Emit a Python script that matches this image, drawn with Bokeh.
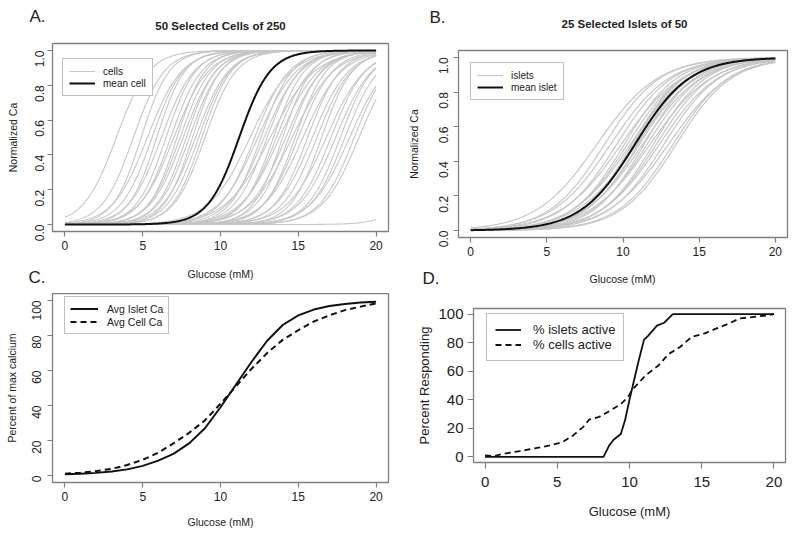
import math
import numpy as np
from bokeh.plotting import figure
from bokeh.layouts import row, column
from bokeh.models import Label, Legend, LegendItem, Range1d, FixedTicker, PrintfTickFormatter
from bokeh.embed import file_html
from bokeh.resources import INLINE

# ---------------- data ----------------
# Panel A: half-max glucose (mM) and steepness of each of the 50 selected cells
cell_midpoints = [3.3, 4.4, 4.9, 5.3, 5.6, 5.9, 6.2, 6.5, 6.8, 7.0,
                  7.2, 7.4, 7.6, 7.8, 8.0, 8.2, 8.4, 8.6, 8.8, 9.0,
                  11.9, 12.2, 12.4, 12.6, 12.8, 13.0, 13.2, 13.4, 13.6, 13.8,
                  14.0, 14.2, 14.4, 14.6, 14.8, 15.0, 15.3, 15.6, 15.9, 16.2,
                  16.5, 16.8, 17.1, 17.4, 17.7, 18.0, 18.3, 18.6, 18.9, 23.5]
cell_slopes = [0.95, 1.0, 1.1, 0.9, 1.0, 1.1, 0.95, 1.05, 1.0, 0.9,
               1.1, 1.0, 0.95, 1.05, 1.0, 1.1, 0.95, 1.0, 1.05, 1.0,
               0.75, 0.9, 0.8, 1.0, 0.85, 0.95, 0.7, 1.0, 0.9, 0.8,
               1.05, 0.85, 0.95, 0.75, 1.0, 0.9, 0.8, 0.95, 0.85, 0.9,
               1.0, 0.8, 0.9, 0.85, 0.95, 0.9, 0.8, 0.9, 0.85, 1.0]
mean_cell_midpoint = 11.2
mean_cell_slope = 1.0

# Panel B: 25 selected islets
islet_midpoints = [8.3, 8.8, 9.2, 9.6, 9.9, 10.1, 10.3, 10.5, 10.6, 10.8,
                   10.9, 11.0, 11.1, 11.3, 11.4, 11.6, 11.8, 12.0, 12.2, 12.4,
                   12.7, 13.0, 13.3, 13.5, 10.7]
islet_slopes = [0.5, 0.55, 0.52, 0.55, 0.5, 0.58, 0.55, 0.52, 0.6, 0.55,
                0.5, 0.58, 0.55, 0.52, 0.6, 0.55, 0.5, 0.58, 0.55, 0.52,
                0.55, 0.5, 0.55, 0.55, 0.6]
mean_islet_midpoint = 10.8
mean_islet_slope = 0.56

# Panel C
glucose_c = [0, 1, 2, 3, 4, 5, 6, 7, 8, 9, 10, 11, 12, 13, 14, 15, 16, 17, 18, 19, 20]
avg_islet_ca = [0.7, 1.0, 1.5, 2.3, 3.5, 5.5, 8.5, 12.5, 18.5, 27, 39, 52, 65, 77, 86, 91.5, 94.8, 96.8, 98, 98.8, 99.3]
avg_cell_ca = [1.0, 1.6, 2.5, 3.8, 6.0, 9.0, 13, 18.5, 24.5, 31.5, 41, 51, 61, 70, 77.5, 83, 88, 91.5, 94.5, 96.5, 98.3]

# Panel D
glucose_islets = [0, 8.2, 8.6, 8.9, 9.4, 9.7, 10.0, 10.6, 11.0, 11.3, 11.9, 12.4, 12.7, 13.0, 20]
pct_islets_active = [0, 0, 8, 12, 16, 26, 40, 66, 82, 85, 92, 94, 97, 100, 100]
glucose_cells = [0, 0.6, 1.2, 2.4, 3.5, 4.5, 5.4, 6.1, 6.8, 7.2, 7.9, 8.6, 9.4, 9.9, 10.2,
                 11.1, 12.0, 12.7, 13.5, 14.3, 15.2, 15.9, 16.9, 17.6, 18.5, 19.4, 20]
pct_cells_active = [1, 0.5, 2, 4, 6, 8, 10.5, 15, 21, 26, 28, 32, 37, 42, 47,
                    57, 64, 72, 77, 84, 86.5, 89.5, 93.5, 97, 98, 99, 100]

x_ticks = [0, 5, 10, 15, 20]
frac_ticks = [0, 0.2, 0.4, 0.6, 0.8, 1.0]
pct_ticks = [0, 20, 40, 60, 80, 100]

# ---------------- styling helpers ----------------
FONT = "Liberation Sans"
TXT = "#222222"
BOX = "#808080"
grid = np.linspace(0, 20, 401)
W = 400


def hill(mid, k):
    return 1.0 / (1.0 + np.exp(-k * (grid - mid)))


def make_fig(h, yr, left, right, top, bottom, tick_px, lab_px, rot_y=True,
             tick_len=5, tick_standoff=4, label_standoff=9):
    p = figure(width=W, height=h, x_range=Range1d(-0.8, 20.8), y_range=Range1d(*yr),
               output_backend="svg", toolbar_location=None,
               min_border_left=left, min_border_right=right,
               min_border_top=top, min_border_bottom=bottom)
    p.grid.visible = False
    p.outline_line_color = BOX
    p.outline_line_width = 1.3
    for ax in p.axis:
        ax.axis_line_color = None
        ax.major_tick_line_color = BOX
        ax.major_tick_line_width = 1.2
        ax.major_tick_in = 0
        ax.major_tick_out = tick_len
        ax.minor_tick_line_color = None
        ax.major_label_text_font = FONT
        ax.major_label_text_font_size = tick_px
        ax.major_label_text_color = TXT
        ax.major_label_standoff = tick_standoff
        ax.axis_label_text_font = FONT
        ax.axis_label_text_font_size = lab_px
        ax.axis_label_text_font_style = "normal"
        ax.axis_label_text_color = TXT
        ax.axis_label_standoff = label_standoff
    p.xaxis.ticker = FixedTicker(ticks=x_ticks)
    if rot_y:
        p.yaxis.major_label_orientation = math.pi / 2
    return p


def header(h, left, right, letter_txt, letter_y, letter_gap):
    # text strip between panels; its y data units are pixels from its top edge,
    # the panel letter is drawn as the single tick label of its left axis
    p = figure(width=W, height=h, x_range=Range1d(-0.8, 20.8), y_range=Range1d(h, 0),
               output_backend="svg", toolbar_location=None,
               min_border_left=left, min_border_right=right,
               min_border_top=0, min_border_bottom=0, x_axis_type=None)
    p.grid.visible = False
    p.outline_line_color = None
    ax = p.yaxis[0]
    ax.ticker = FixedTicker(ticks=[letter_y])
    ax.major_label_overrides = {letter_y: letter_txt}
    ax.axis_line_color = None
    ax.major_tick_line_color = None
    ax.minor_tick_line_color = None
    ax.major_tick_out = 0
    ax.major_label_standoff = letter_gap
    ax.major_label_text_font = FONT
    ax.major_label_text_font_size = "17px"
    ax.major_label_text_color = TXT
    return p


def text_at(p, x, y, txt, size, bold=False):
    p.add_layout(Label(x=x, y=y, text=txt, text_font=FONT, text_font_size=size,
                       text_font_style="bold" if bold else "normal", text_color=TXT,
                       text_align="center", text_baseline="middle"))


def style_legend(lg, font_px, glyph_w, row_h, pad, standoff):
    lg.border_line_color = BOX
    lg.border_line_width = 1.2
    lg.background_fill_color = "white"
    lg.background_fill_alpha = 1.0
    lg.label_text_font = FONT
    lg.label_text_font_size = font_px
    lg.label_text_color = TXT
    lg.glyph_width = glyph_w
    lg.glyph_height = row_h
    lg.label_height = row_h
    lg.spacing = 0
    lg.padding = pad
    lg.margin = 0
    lg.label_standoff = standoff


# ---------------- Panel A ----------------
ha = header(36, 52, 12, "A.", 16, 7)
text_at(ha, 10.0, 25, "50 Selected Cells of 250", "11.5px", bold=True)

pa = make_fig(220, (-0.04, 1.04), 52, 12, 7, 25, "12px", "10.5px", tick_standoff=4)
pa.yaxis.major_label_standoff = 8
pa.yaxis.axis_label_standoff = 9
pa.yaxis.axis_label = "Normalized Ca"
pa.yaxis.ticker = FixedTicker(ticks=frac_ticks)
pa.yaxis.formatter = PrintfTickFormatter(format="%.1f")
cells_r = pa.multi_line(xs=[grid] * len(cell_midpoints),
                        ys=[hill(m, k) for m, k in zip(cell_midpoints, cell_slopes)],
                        line_color="#c6c6c6", line_width=1.1)
mean_cell_r = pa.line(grid, hill(mean_cell_midpoint, mean_cell_slope), line_color="#111111", line_width=2)
lga = Legend(items=[LegendItem(label="cells", renderers=[cells_r]),
                    LegendItem(label="mean cell", renderers=[mean_cell_r])],
             location=(10, 135))
style_legend(lga, "10px", 26, 12, 6, 8)
pa.add_layout(lga)

# strip below A: A's x-axis title and the letter of C
hc = header(37, 52, 12, "C.", 21, 7)
text_at(hc, 10.0, 17, "Glucose (mM)", "10.5px")

# ---------------- Panel C ----------------
pc = make_fig(244, (-4, 104), 52, 12, 0, 55, "12px", "10.5px",
              tick_standoff=4, label_standoff=12)
pc.yaxis.major_label_standoff = 11
pc.yaxis.axis_label_standoff = 7
pc.xaxis.axis_label = "Glucose (mM)"
pc.yaxis.axis_label = "Percent of max calcium"
pc.yaxis.ticker = FixedTicker(ticks=pct_ticks)
islet_c_r = pc.line(glucose_c, avg_islet_ca, line_color="#111111", line_width=2)
cell_c_r = pc.line(glucose_c, avg_cell_ca, line_color="#111111", line_width=2, line_dash="6 4")
lgc = Legend(items=[LegendItem(label="Avg Islet Ca", renderers=[islet_c_r]),
                    LegendItem(label="Avg Cell Ca", renderers=[cell_c_r])],
             location=(12, 148))
style_legend(lgc, "10.5px", 28, 13, 5, 9)
pc.add_layout(lgc)

# ---------------- Panel B ----------------
hb = header(40, 58, 13, "B.", 17, 13)
text_at(hb, 10.1, 23, "25 Selected Islets of 50", "11.5px", bold=True)

pb = make_fig(222, (-0.04, 1.04), 58, 13, 10, 25, "12px", "10.5px", tick_standoff=4)
pb.yaxis.major_label_standoff = 10
pb.yaxis.axis_label_standoff = 12
pb.yaxis.axis_label = "Normalized Ca"
pb.yaxis.ticker = FixedTicker(ticks=frac_ticks)
pb.yaxis.formatter = PrintfTickFormatter(format="%.1f")
islets_r = pb.multi_line(xs=[grid] * len(islet_midpoints),
                         ys=[hill(m, k) for m, k in zip(islet_midpoints, islet_slopes)],
                         line_color="#c6c6c6", line_width=1.2)
mean_islet_r = pb.line(grid, hill(mean_islet_midpoint, mean_islet_slope), line_color="#111111", line_width=2)
lgb = Legend(items=[LegendItem(label="islets", renderers=[islets_r]),
                    LegendItem(label="mean islet", renderers=[mean_islet_r])],
             location=(12, 137))
style_legend(lgb, "10px", 26, 12, 6, 8)
pb.add_layout(lgb)

# strip below B: B's x-axis title and the letter of D
hd = header(38, 73, 15, "D.", 16, 34)
text_at(hd, 9.52, 16, "Glucose (mM)", "10.5px")

# ---------------- Panel D ----------------
pd_ = make_fig(237, (-4, 104), 73, 15, 8, 75, "15px", "13px", rot_y=False,
               tick_len=6, tick_standoff=8, label_standoff=14)
pd_.xaxis.axis_label = "Glucose (mM)"
pd_.yaxis.axis_label = "Percent Responding"
pd_.yaxis.ticker = FixedTicker(ticks=pct_ticks)
pd_.yaxis.major_label_standoff = 4
pd_.yaxis.axis_label_standoff = 3
islet_d_r = pd_.line(glucose_islets, pct_islets_active, line_color="#111111", line_width=1.8)
cell_d_r = pd_.line(glucose_cells, pct_cells_active, line_color="#111111", line_width=1.8, line_dash="6 4")
lgd = Legend(items=[LegendItem(label="% islets active", renderers=[islet_d_r]),
                    LegendItem(label="% cells active", renderers=[cell_d_r])],
             location=(13, 101))
style_legend(lgd, "13px", 26, 15, 8, 12)
pd_.add_layout(lgd)

left_col = column(column(ha, pa), column(hc, pc))
right_col = column(column(hb, pb), column(hd, pd_))
layout = row(left_col, right_col)
open("out.html", "w").write(file_html(layout, INLINE))
